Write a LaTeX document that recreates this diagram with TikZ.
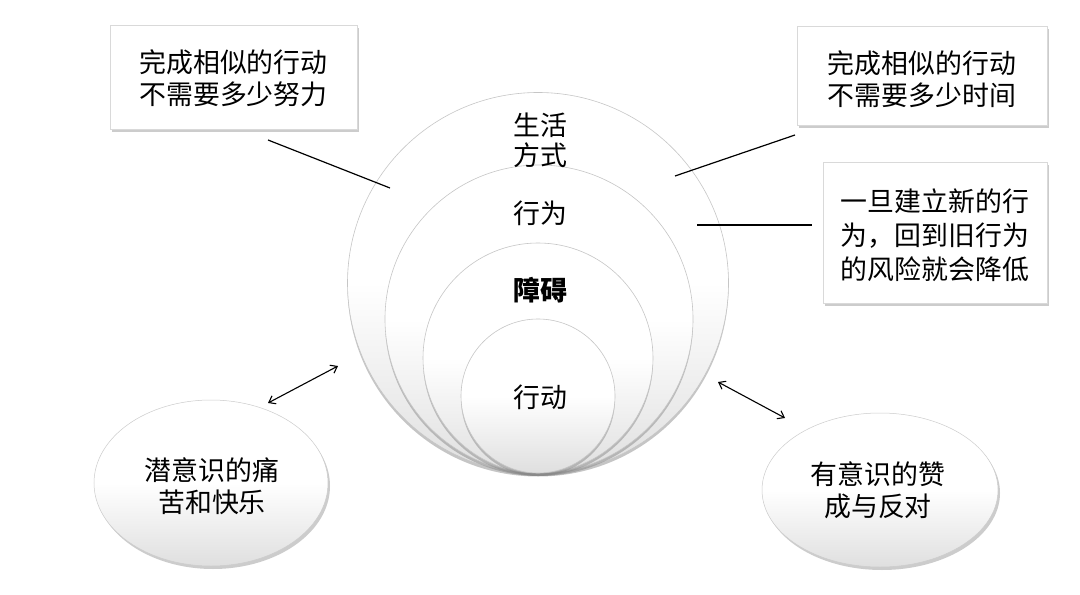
\documentclass[tikz,border=0pt]{standalone}
\usepackage{fontspec}
\setmainfont{Noto Sans CJK SC}
\usetikzlibrary{shadows,arrows.meta,shapes.geometric}
\begin{document}
\begin{tikzpicture}[x=1bp,y=-1bp,
  txt/.style={font=\fontsize{27}{32}\selectfont, align=center, inner sep=0pt, text=black},
  ring/.style={circle, draw=gray!45, line width=0.6bp, top color=white, bottom color=gray!25, middle color=white,
    drop shadow={shadow xshift=0bp, shadow yshift=-3bp, opacity=0.45}},
  boxed/.style={rectangle, draw=gray!30, line width=0.5bp, fill=white,
    drop shadow={shadow xshift=2bp, shadow yshift=-3bp, opacity=0.4}},
  oval/.style={ellipse, draw=gray!40, line width=0.5bp, top color=white, bottom color=gray!25, middle color=white,
    drop shadow={shadow xshift=2bp, shadow yshift=-3bp, opacity=0.4}},
  link/.style={draw=black, line width=1.2bp},
  dbl/.style={draw=black, line width=1.1bp, {Straight Barb[length=6bp,width=9bp]}-{Straight Barb[length=6bp,width=9bp]}}
]
\useasboundingbox[fill=white] (0,0) rectangle (1080,595);

% nested circles
\node[ring, minimum size=381bp] (c1) at (538,283) {};
\node[ring, minimum size=308bp] (c2) at (539,319) {};
\node[ring, minimum size=230bp] (c3) at (538,358) {};
\node[ring, minimum size=154bp] (c4) at (538,396) {};

\node[txt] (t1) at (540,140) {生活\\[-2bp]方式};
\node[txt] (t2) at (540,213) {行为};
\node[txt, font=\fontsize{27}{32}\selectfont\bfseries] (t3) at (540,290) {障碍};
\node[txt] (t4) at (540,397) {行动};

% boxes
\node[boxed, minimum width=247bp, minimum height=104bp] (b1) at (233.5,77) {};
\node[txt] (b1t) at (233.5,78) {完成相似的行动\\不需要多少努力};
\node[boxed, minimum width=250bp, minimum height=99bp] (b2) at (922,75.5) {};
\node[txt] (b2t) at (922,79) {完成相似的行动\\不需要多少时间};
\node[boxed, minimum width=224bp, minimum height=141bp] (b3) at (935,232.5) {};
\node[txt, font=\fontsize{27}{34}\selectfont] (b3t) at (935,235) {一旦建立新的行\\为，回到旧行为\\的风险就会降低};

% ellipses
\node[oval, minimum width=234bp, minimum height=166bp] (e1) at (211,483) {};
\node[txt] (e1t) at (212,486) {潜意识的痛\\苦和快乐};
\node[oval, minimum width=236bp, minimum height=154bp] (e2) at (880,490) {};
\node[txt] (e2t) at (878,490) {有意识的赞\\成与反对};

% connectors
\coordinate (l1a) at (268,140);
\coordinate (l1b) at (390,188);
\coordinate (l2a) at (675,176);
\coordinate (l2b) at (795,135);
\coordinate (l3a) at (697,225);
\coordinate (l3b) at (812,225);
\draw[link] (l1a) -- (l1b);
\draw[link] (l2a) -- (l2b);
\draw[link] (l3a) -- (l3b);

\coordinate (a1a) at (268,403);
\coordinate (a1b) at (338,366);
\coordinate (a2a) at (718,382);
\coordinate (a2b) at (785,418);
\draw[dbl] (a1a) -- (a1b);
\draw[dbl] (a2a) -- (a2b);
\end{tikzpicture}
\end{document}
